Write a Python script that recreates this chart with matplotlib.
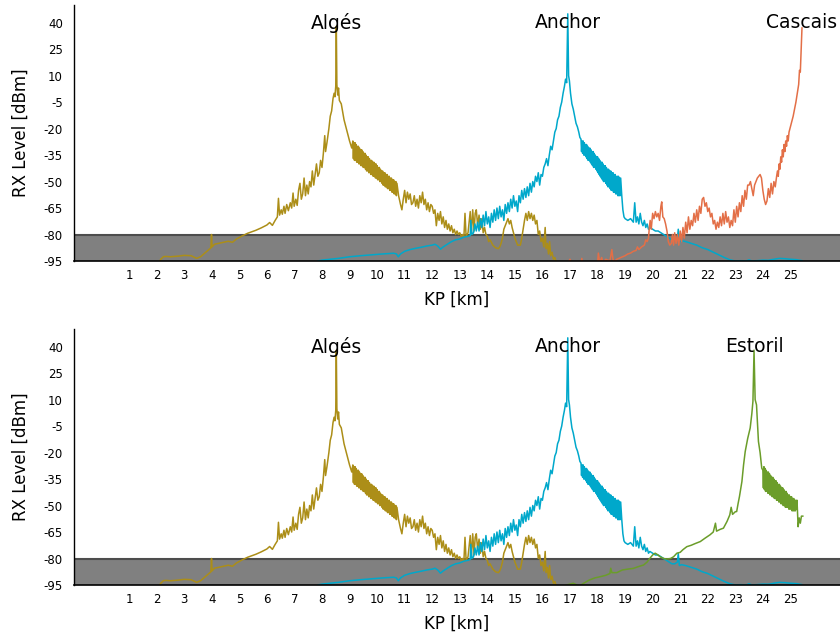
import matplotlib
matplotlib.use("Agg")
import matplotlib.pyplot as plt

plt.rcParams['font.family'] = ['DejaVu Sans']
plt.rcParams['axes.unicode_minus'] = False

# Algés (olive) - in three pieces
alges_rise_km = [2.11, 2.15, 2.25, 2.35, 2.5, 2.8, 3.0, 3.25, 3.45, 3.6, 3.75, 3.9, 3.97, 3.99, 4.01, 4.1, 4.3, 4.6,
                 4.75, 4.9, 5.1, 5.3, 5.6, 5.8, 6.0, 6.1, 6.2, 6.3,
                 6.38, 6.42, 6.46, 6.52, 6.56, 6.62, 6.66, 6.72, 6.78, 6.85, 6.9, 6.95, 6.99, 7.05, 7.1, 7.15, 7.2,
                 7.25, 7.3, 7.35, 7.4, 7.45, 7.5, 7.55, 7.6, 7.65, 7.7, 7.75, 7.8, 7.85, 7.9, 7.95, 8.0, 8.05, 8.1,
                 8.13, 8.18, 8.25, 8.3, 8.35, 8.4, 8.44, 8.47, 8.5, 8.52, 8.54, 8.57, 8.6, 8.63, 8.7,
                 8.8, 8.9, 9.0, 9.08]
alges_rise_db = [-95, -94, -92.5, -92.4, -92.6, -92.2, -91.8, -92.0, -93.5, -92.5, -90.5, -88.5, -87.5, -80.0, -87,
                 -85.5, -84.8, -83.8, -84.4, -82.5, -80.8, -79.3, -77.6, -76.2, -74.6, -73.2, -74.8, -72,
                 -70, -59.5, -69, -66, -68.5, -64, -68, -63, -66.5, -62, -65, -56.5, -64, -60, -63.5, -55, -51,
                 -60, -57, -48, -58, -52, -57, -50, -53, -44, -52, -46, -40, -47, -45, -38, -42, -34, -24,
                 -33, -28, -20, -13, -10, -3, 0, -2, 4, 38, 5, -1, 3, -4, -6,
                 -15, -21, -27, -31]
alges_band_km = [9.12, 9.14, 9.16, 9.18, 9.20, 9.22, 9.24, 9.26, 9.28, 9.30, 9.32, 9.34, 9.36, 9.38, 9.40, 9.42,
                 9.44, 9.46, 9.48, 9.50, 9.52, 9.54, 9.56, 9.58, 9.60, 9.62, 9.64, 9.66, 9.68, 9.70, 9.72, 9.74,
                 9.76, 9.78, 9.80, 9.82, 9.84, 9.86, 9.88, 9.90, 9.92, 9.94, 9.96, 9.98, 10.00, 10.02, 10.04,
                 10.06, 10.08, 10.10, 10.12, 10.14, 10.16, 10.18, 10.20, 10.22, 10.24, 10.26, 10.28, 10.30,
                 10.32, 10.34, 10.36, 10.38, 10.40, 10.42, 10.44, 10.46, 10.48, 10.50, 10.52, 10.54, 10.56,
                 10.58, 10.60, 10.62, 10.64, 10.66, 10.68, 10.70, 10.72]
alges_band_db = [-27, -37, -28, -38, -28, -38, -29, -39, -30, -39, -30, -40, -31, -40, -32, -41,
                 -32, -41, -33, -42, -34, -42, -34, -43, -35, -44, -36, -44, -36, -45, -37, -45,
                 -38, -46, -38, -46, -39, -47, -39, -47, -40, -48, -40, -48, -41, -49, -42,
                 -49, -42, -50, -43, -50, -44, -51, -44, -52, -45, -52, -45, -53,
                 -46, -53, -46, -54, -47, -54, -47, -55, -48, -55, -48, -56, -49,
                 -56, -49, -57, -50, -57, -50, -58, -51]
alges_tail_km = [10.78, 10.85, 10.9, 10.95, 11.0, 11.05, 11.1, 11.15, 11.2, 11.25, 11.3, 11.35, 11.4, 11.45, 11.5,
                 11.55, 11.6, 11.65, 11.7, 11.75, 11.8, 11.85, 11.9, 11.95, 12.0, 12.05, 12.1, 12.15, 12.2, 12.25,
                 12.3, 12.35, 12.4, 12.45, 12.5, 12.55, 12.6, 12.65, 12.7, 12.75, 12.8, 12.85, 12.9, 12.95, 13.0,
                 13.05, 13.1, 13.15, 13.19, 13.23, 13.3, 13.38, 13.42, 13.47, 13.52, 13.56, 13.6, 13.65, 13.7,
                 13.75, 13.8, 13.85, 13.9, 13.95, 14.0, 14.05, 14.1, 14.2, 14.3, 14.4, 14.45, 14.5, 14.55, 14.6,
                 14.7, 14.75, 14.8, 14.85, 14.9, 14.95, 15.0, 15.1, 15.2, 15.25, 15.3, 15.35, 15.4, 15.45, 15.5,
                 15.55, 15.6, 15.65, 15.7, 15.75, 15.8, 15.85, 15.9, 15.95, 16.0, 16.05, 16.1, 16.13, 16.18, 16.22,
                 16.26, 16.3, 16.35, 16.4, 16.45, 16.5]
alges_tail_db = [-58, -63, -66, -60, -55, -62, -56, -60, -57, -63, -62, -58, -64, -60, -65,
                 -58, -62, -56, -63, -60, -66, -62, -67, -63, -64, -68, -66, -75, -68, -72,
                 -67, -74, -70, -76, -72, -77, -74, -78, -75, -79, -77, -80, -78, -80, -79,
                 -81, -80, -81.5, -68, -81, -79, -67, -80, -66, -78, -68, -66, -75, -69,
                 -77, -71, -79, -76, -80, -81, -84, -83, -86, -87.5, -88, -87, -85, -82, -77,
                 -73, -71, -74, -72, -76, -79, -82, -86, -86, -82, -77, -72, -68, -72, -67,
                 -71, -68, -72, -69, -74, -72, -80, -78, -84, -82, -87, -76, -88, -85, -91,
                 -84, -92, -90, -94, -93, -95.5]

# Anchor (cyan)
anchor_rise_km = [7.86, 8.0, 8.3, 8.6, 9.0, 9.4, 9.8, 10.2, 10.6, 10.7, 10.77, 10.85, 11.0, 11.2, 11.4, 11.6, 11.8,
                  12.0, 12.1, 12.2, 12.3, 12.4, 12.5, 12.6, 12.7, 12.85, 13.0, 13.15, 13.3, 13.38, 13.4, 13.44,
                  13.5, 13.55, 13.6, 13.65, 13.7, 13.75, 13.8, 13.85, 13.9, 13.95, 14.0, 14.05, 14.1, 14.15, 14.2,
                  14.25, 14.3, 14.35, 14.4, 14.45, 14.5, 14.55, 14.6, 14.65, 14.7, 14.75, 14.8, 14.85, 14.9, 14.95,
                  15.0, 15.05, 15.1, 15.15, 15.2, 15.25, 15.3, 15.35, 15.4, 15.45, 15.5, 15.55, 15.6, 15.65, 15.7,
                  15.75, 15.8, 15.85, 15.9, 15.95, 16.0, 16.05, 16.1, 16.15, 16.2, 16.25, 16.3, 16.35, 16.4, 16.45,
                  16.5, 16.55, 16.6, 16.65, 16.7, 16.75, 16.8, 16.84, 16.88, 16.92, 16.95, 16.98, 17.02, 17.07,
                  17.12, 17.17, 17.22, 17.27, 17.32, 17.36]
anchor_rise_db = [-95, -94.5, -94, -93.5, -92.6, -92, -91.5, -91, -90.6, -91, -92.6, -91, -89.5, -88.5, -87.8, -87.2,
                  -86.5, -86, -85.5, -86.5, -88.3, -87, -86, -85, -84, -83, -82.5, -81.5, -81, -80.5, -72, -80,
                  -79, -74, -78, -73, -78, -71, -76, -69, -75, -67, -74, -70, -76, -68, -73,
                  -66, -72, -65, -71, -64, -70, -66, -72, -63, -68, -62, -67, -60, -65, -58,
                  -64, -61, -67, -58, -62, -55, -60, -54, -59, -53, -58, -51, -56, -50, -53,
                  -47, -50, -45, -52, -46, -47, -42, -40, -37, -41, -35, -30, -32, -27, -22,
                  -20, -15, -13, -8, -5, 0, 4, 8, 6, 45, 10, 7, 0, -6,
                  -9, -13, -17, -19, -22, -25]
anchor_band_km = [17.40, 17.42, 17.44, 17.46, 17.48, 17.50, 17.52, 17.54, 17.56, 17.58, 17.60, 17.62, 17.64, 17.66,
                  17.68, 17.70, 17.72, 17.74, 17.76, 17.78, 17.80, 17.82, 17.84, 17.86, 17.88, 17.90, 17.92, 17.94,
                  17.96, 17.98, 18.00, 18.02, 18.04, 18.06, 18.08, 18.10, 18.12, 18.14, 18.16, 18.18, 18.20, 18.22,
                  18.24, 18.26, 18.28, 18.30, 18.32, 18.34, 18.36, 18.38, 18.40, 18.42, 18.44, 18.46, 18.48, 18.50,
                  18.52, 18.54, 18.56, 18.58, 18.60, 18.62, 18.64, 18.66, 18.68, 18.70, 18.72, 18.74, 18.76, 18.78,
                  18.80, 18.82, 18.84]
anchor_band_db = [-26, -33, -27, -34, -27, -35, -28, -35, -29, -36, -29, -37, -30, -38,
                  -31, -38, -31, -39, -32, -40, -33, -41, -33, -42, -34, -42, -35, -43,
                  -36, -44, -36, -45, -37, -46, -38, -47, -39, -48, -39, -49, -40, -50,
                  -41, -50, -41, -51, -42, -52, -43, -53, -43, -53, -44, -54, -44, -55,
                  -45, -55, -45, -56, -46, -56, -46, -57, -47, -57, -47, -58, -47, -58,
                  -48, -58, -48]
anchor_tail_km = [18.88, 18.92, 18.96, 19.0, 19.1, 19.2, 19.3, 19.35, 19.4, 19.45, 19.5, 19.55, 19.6, 19.65, 19.7,
                  19.75, 19.8, 19.85, 19.9, 20.0, 20.1, 20.2, 20.3, 20.4, 20.5, 20.6, 20.7, 20.8, 20.9, 20.93, 20.97,
                  21.05, 21.2, 21.4, 21.6, 21.8, 22.0, 22.2, 22.4, 22.6, 22.8, 23.0, 23.2, 23.4, 23.5, 23.6, 23.8,
                  24.0, 24.2, 24.4, 24.6, 24.8, 25.0, 25.2, 25.42]
anchor_tail_db = [-58, -66, -70, -71, -72, -71, -73, -62, -73, -70, -74, -68, -73, -75, -72,
                  -76, -74, -77, -76, -77, -78, -78, -79, -80, -81, -82, -83, -83, -82, -77, -84,
                  -83.5, -84, -85, -86, -87.5, -88.5, -90, -91.5, -93, -94.3, -95, -94.8, -95, -94.3, -95, -94.8,
                  -94.5, -94.6, -94, -93.5, -93.7, -94, -94.2, -94.8]

# Cascais (orange), top panel only
cascais_km = [16.9, 17.0, 17.1, 17.4, 17.43, 17.47, 18.0, 18.03, 18.08, 18.15, 18.2, 18.3, 18.45, 18.52, 18.56,
              18.6, 18.7, 18.85, 19.0, 19.1, 19.2, 19.3, 19.4, 19.45, 19.5, 19.6, 19.7, 19.75, 19.8, 19.85,
              19.88, 19.91, 19.95, 20.0, 20.05, 20.1, 20.15, 20.2, 20.25, 20.3, 20.33, 20.37, 20.42, 20.47,
              20.52, 20.57, 20.62, 20.68, 20.72, 20.76, 20.8, 20.85, 20.9, 20.95, 21.0, 21.05, 21.1, 21.15,
              21.2, 21.25, 21.3, 21.35, 21.4, 21.45, 21.5, 21.55, 21.6, 21.65, 21.7, 21.75, 21.8, 21.85, 21.9,
              21.95, 22.0, 22.05, 22.1, 22.15, 22.2, 22.25, 22.3, 22.35, 22.4, 22.45, 22.5, 22.55, 22.6, 22.65,
              22.7, 22.75, 22.8, 22.85, 22.9, 22.95, 23.0, 23.05, 23.1, 23.15, 23.2, 23.25, 23.3, 23.35, 23.4,
              23.45, 23.5, 23.55, 23.6, 23.65, 23.7, 23.75, 23.8, 23.85, 23.9, 23.95, 24.0, 24.05, 24.1, 24.15,
              24.2, 24.25, 24.3, 24.35, 24.4, 24.45, 24.5, 24.53, 24.56, 24.59, 24.62, 24.65, 24.68, 24.71,
              24.74, 24.77, 24.8, 24.83, 24.86, 24.89, 24.92, 24.95, 25.0, 25.05, 25.1, 25.15, 25.2, 25.25,
              25.3, 25.33, 25.36, 25.39, 25.42]
cascais_db = [-97, -94, -98, -97, -93.5, -98, -97, -90.5, -96, -93, -96, -94, -95, -88.5, -94,
              -95.5, -94, -93, -92, -91, -90.5, -89.5, -89, -87, -88.5, -87, -86, -83, -84, -82,
              -76, -72, -77, -68, -71, -67, -70, -68, -72, -64, -61.5, -70, -71, -74,
              -78, -84, -86, -85, -80, -86, -79, -85, -80, -86, -78, -84, -76, -82,
              -73, -79, -70, -77, -72, -75, -68, -73, -66, -72, -64, -68, -60, -59, -64,
              -62, -67, -65, -70, -68, -74, -72, -77, -73, -76, -70, -75, -68, -74, -67,
              -73, -70, -76, -72, -75, -66, -73, -64, -70, -62, -67, -58, -64, -55, -60,
              -52, -52, -50, -54, -58, -52, -50, -48, -47, -46, -48, -55, -60, -63, -61,
              -54, -59, -51, -57, -50, -53, -47, -44, -47, -40, -43, -36, -39, -32,
              -36, -29, -33, -27, -30, -24, -27, -22, -19, -16, -13, -9, -5, 0,
              5, 13, 12, 25, 37]

# Estoril (green), bottom panel only
estoril_rise_km = [16.7, 16.88, 17.0, 17.12, 17.25, 17.35, 17.5, 17.7, 17.9, 18.1, 18.3, 18.45, 18.48, 18.52, 18.7,
                   18.9, 19.1, 19.3, 19.5, 19.67, 19.8, 19.9, 20.0, 20.09, 20.15, 20.27, 20.4, 20.5, 20.65, 20.76,
                   20.88, 21.0, 21.1, 21.24, 21.4, 21.55, 21.73, 21.9, 22.08, 22.2, 22.28, 22.32, 22.45, 22.57,
                   22.7, 22.8, 22.85, 22.9, 23.0, 23.05, 23.1, 23.15, 23.2, 23.24, 23.3, 23.36, 23.45, 23.54, 23.6,
                   23.64, 23.68, 23.72, 23.77, 23.84, 23.9, 23.96]
estoril_rise_db = [-96, -95, -94.5, -94, -95, -95.5, -94, -92.2, -91, -90.3, -89.5, -88.5, -85.5, -88, -88,
                   -86.5, -86, -85.6, -84.5, -83.7, -82, -79.9, -78, -77, -77.5, -79, -80, -80.3, -80, -79,
                   -77, -76.5, -75, -73.3, -72.5, -71.5, -70.4, -68.5, -66.6, -65, -60, -64.5, -63.5, -62.8,
                   -59, -55.3, -51, -55, -53.5, -53.4, -49, -45, -40, -36.4, -27, -19.4, -12, -6.1, 2,
                   9, 38, 10, 7, -13.7, -20, -28.8]
estoril_band_km = [24.00, 24.02, 24.04, 24.06, 24.08, 24.10, 24.12, 24.14, 24.16, 24.18, 24.20, 24.22, 24.24,
                   24.26, 24.28, 24.30, 24.32, 24.34, 24.36, 24.38, 24.40, 24.42, 24.44, 24.46, 24.48, 24.50,
                   24.52, 24.54, 24.56, 24.58, 24.60, 24.62, 24.64, 24.66, 24.68, 24.70, 24.72, 24.74, 24.76,
                   24.78, 24.80, 24.82, 24.84, 24.86, 24.88, 24.90, 24.92, 24.94, 24.96, 24.98, 25.00, 25.02,
                   25.04, 25.06, 25.08, 25.10, 25.12, 25.14, 25.16, 25.18, 25.20, 25.22, 25.24]
estoril_band_db = [-30, -40, -28, -41, -29, -42, -30, -42, -31, -43, -31, -43, -32,
                   -44, -33, -44, -34, -45, -34, -45, -35, -46, -36, -46, -36, -47,
                   -37, -47, -38, -48, -38, -48, -39, -49, -40, -49, -40, -50, -41,
                   -50, -42, -51, -42, -51, -43, -51, -44, -52, -44, -52, -45, -52,
                   -45, -53, -46, -53, -46, -53, -47, -53, -47, -52, -47]
estoril_tail_km = [25.28, 25.32, 25.36, 25.40, 25.45]
estoril_tail_db = [-62, -57, -60, -56, -56]

alges_km = alges_rise_km + alges_band_km + alges_tail_km
alges_db = alges_rise_db + alges_band_db + alges_tail_db
anchor_km = anchor_rise_km + anchor_band_km + anchor_tail_km
anchor_db = anchor_rise_db + anchor_band_db + anchor_tail_db
estoril_km = estoril_rise_km + estoril_band_km + estoril_tail_km
estoril_db = estoril_rise_db + estoril_band_db + estoril_tail_db

c_alges = '#ac8e18'
c_anchor = '#00a8cb'
c_cascais = '#e36f47'
c_estoril = '#6b9d2a'

yticks = [-95, -80, -65, -50, -35, -20, -5, 10, 25, 40]
xticks = list(range(1, 26))

fig = plt.figure(figsize=(8.4, 6.34), dpi=100)
ax1 = fig.add_axes([0.0881, 0.5883, 0.9119, 0.4038])
ax2 = fig.add_axes([0.0881, 0.0773, 0.9119, 0.4038])

panels = [
    (ax1, [(cascais_km, cascais_db, c_cascais)], [('Algés', 8.54), ('Anchor', 16.92), ('Cascais', 25.42)]),
    (ax2, [(estoril_km, estoril_db, c_estoril)], [('Algés', 8.54), ('Anchor', 16.92), ('Estoril', 23.68)]),
]

for ax, extra, names in panels:
    ax.axhspan(-95, -80, color='#808080', lw=0, zorder=0)
    ax.axhline(-80, color='#4d4d4d', lw=1.5, zorder=1)
    ax.plot(alges_km, alges_db, color=c_alges, lw=1.1, zorder=3)
    ax.plot(anchor_km, anchor_db, color=c_anchor, lw=1.1, zorder=3)
    for xs, ys, c in extra:
        ax.plot(xs, ys, color=c, lw=1.1, zorder=3)
    for name, xpos in names:
        ax.text(xpos, 40, name, ha='center', va='center', fontsize=13.5, zorder=5)
    ax.set_xlim(-1.0, 26.8)
    ax.set_ylim(-95, 50)
    ax.set_xticks(xticks)
    ax.set_yticks(yticks)
    ax.set_yticklabels([str(v) for v in yticks])
    ax.tick_params(length=0, labelsize=8.5)
    ax.tick_params(axis='x', pad=6)
    ax.tick_params(axis='y', pad=8)
    for s in ['top', 'right']:
        ax.spines[s].set_visible(False)
    ax.spines['left'].set_linewidth(1)
    ax.spines['bottom'].set_linewidth(1.2)
    ax.spines['bottom'].set_zorder(4)
    ax.set_xlabel('KP [km]', fontsize=12, labelpad=6)
    ax.set_ylabel('RX Level [dBm]', fontsize=12, labelpad=10)

fig.savefig('out.png', dpi=100)
